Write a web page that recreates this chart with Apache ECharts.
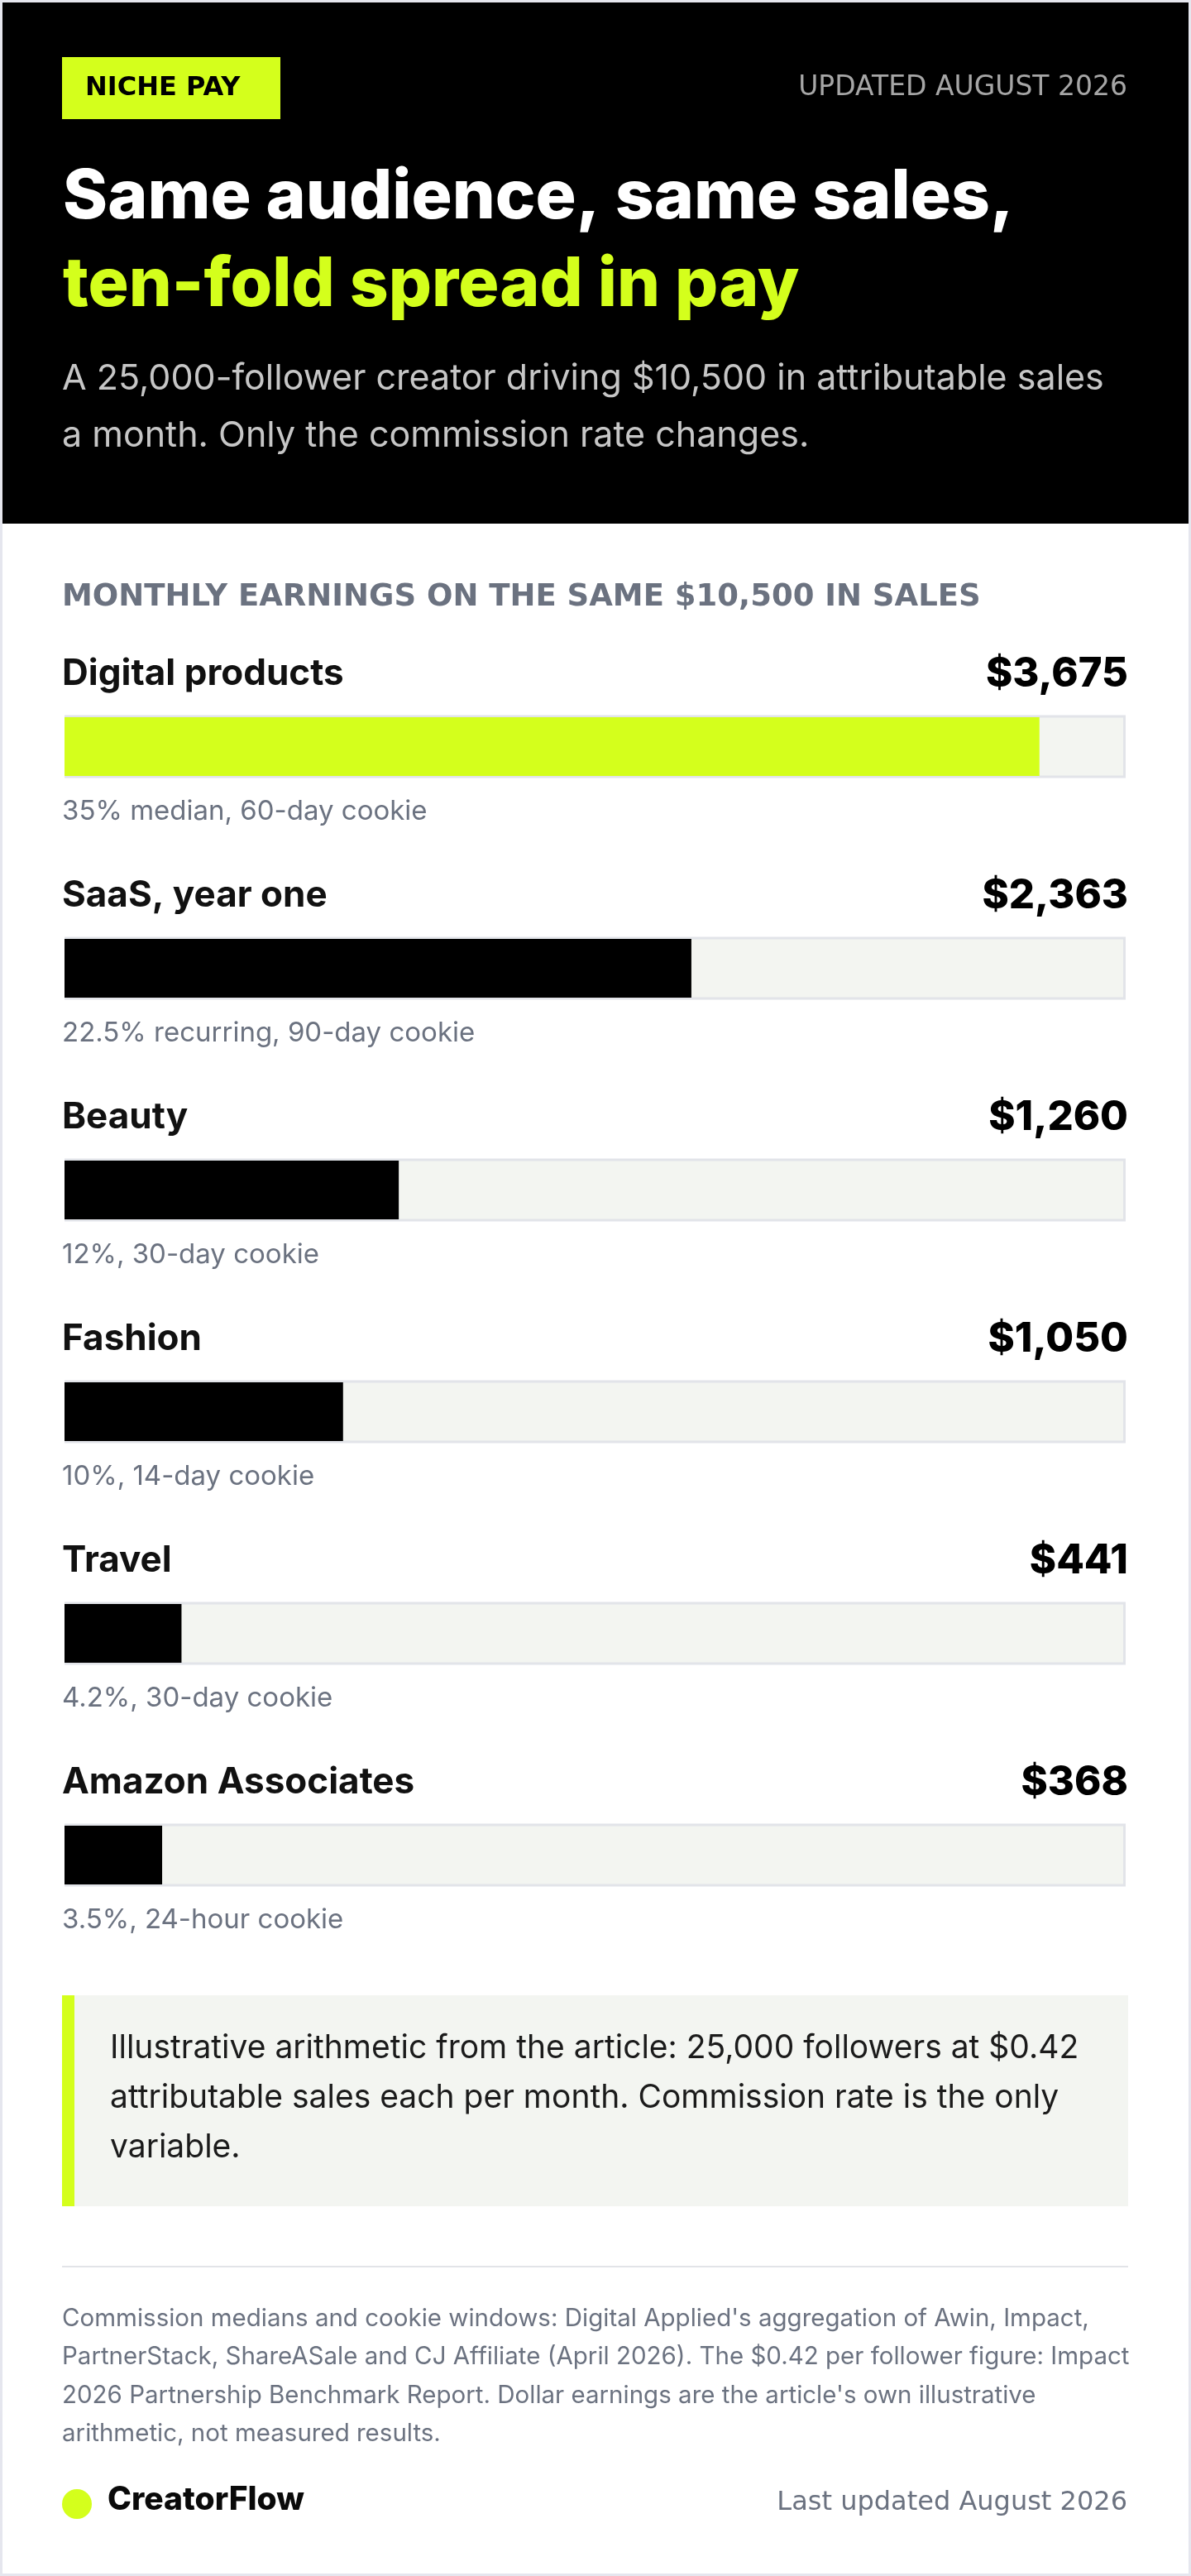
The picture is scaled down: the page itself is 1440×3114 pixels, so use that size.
<!DOCTYPE html>
<html>
<head>
<meta charset="utf-8">
<script src="https://cdn.jsdelivr.net/npm/echarts@6/dist/echarts.min.js"></script>
<style>
html,body{margin:0;padding:0;background:#fff;}
#c{width:1440px;height:3114px;}
</style>
</head>
<body>
<div id="c"></div>
<script>
// ---- data ----
const categories = ['Digital products', 'SaaS, year one', 'Beauty', 'Fashion', 'Travel', 'Amazon Associates'];
const earnings = [3675, 2363, 1260, 1050, 441, 368];
const notes = ['35% median, 60-day cookie', '22.5% recurring, 90-day cookie', '12%, 30-day cookie', '10%, 14-day cookie', '4.2%, 30-day cookie', '3.5%, 24-hour cookie'];
const highlight = [true, false, false, false, false, false];
const AXIS_MAX = 4000;

const badgeText = 'NICHE PAY';
const updatedText = 'UPDATED AUGUST 2026';
const titleLines = ['Same audience, same sales,', 'ten-fold spread in pay'];
const subtitleLines = ['A 25,000-follower creator driving $10,500 in attributable sales', 'a month. Only the commission rate changes.'];
const sectionLabel = 'MONTHLY EARNINGS ON THE SAME $10,500 IN SALES';
const calloutLines = ['Illustrative arithmetic from the article: 25,000 followers at $0.42', 'attributable sales each per month. Commission rate is the only', 'variable.'];
const footnoteLines = ["Commission medians and cookie windows: Digital Applied's aggregation of Awin, Impact,", 'PartnerStack, ShareASale and CJ Affiliate (April 2026). The $0.42 per follower figure: Impact', "2026 Partnership Benchmark Report. Dollar earnings are the article's own illustrative", 'arithmetic, not measured results.'];
const brandName = 'CreatorFlow';
const lastUpdated = 'Last updated August 2026';

// ---- styles ----
const LIME = '#d4ff1c';
const GRAY = '#6b7280';
const INTER = 'Inter, "Noto Sans", sans-serif';
const DEJAVU = '"DejaVu Sans", sans-serif';

function T(x, base, text, size, weight, color, family, opts) {
  opts = opts || {};
  const lh = opts.lh || size;
  const k = family === DEJAVU ? 0.346 : 0.363;
  const y = base - lh / 2 - k * size;
  return {
    type: 'text', x: x, y: y, z: 10,
    style: {
      text: text, fontSize: size, fontWeight: weight, fill: color, fontFamily: family,
      lineHeight: lh, align: opts.align || 'left', verticalAlign: 'top'
    }
  };
}
function R(x, y, w, h, fill, z) {
  return { type: 'rect', z: z || 1, shape: { x: x, y: y, width: w, height: h }, style: { fill: fill } };
}

const fmt = v => '$' + v.toLocaleString('en-US');

const chart = echarts.init(document.getElementById('c'), null, { renderer: 'canvas' });

const option = {
  backgroundColor: '#e5e6ee',
  animation: false,
  grid: { left: 78, top: 768.5, width: 1283, height: 1608, containLabel: false },
  xAxis: { type: 'value', min: 0, max: AXIS_MAX, show: false },
  yAxis: [
    { type: 'category', data: categories, inverse: true, show: false },
    { type: 'category', data: categories, inverse: true, show: false }
  ],
  series: [
    {
      type: 'bar', name: 'track', yAxisIndex: 1, barWidth: 76, z: 3, silent: true,
      data: categories.map(() => AXIS_MAX),
      itemStyle: { color: '#f3f5f1', borderColor: '#e2e4e9', borderWidth: 3 },
      label: {
        show: true, position: [-3, -49.5], align: 'left', verticalAlign: 'middle',
        formatter: p => '{n|' + categories[p.dataIndex] + '}{v|' + fmt(earnings[p.dataIndex]) + '}',
        rich: {
          n: { width: 900, align: 'left', fontFamily: INTER, fontSize: 44, fontWeight: 700, color: '#111111' },
          v: { width: 389, align: 'right', fontFamily: INTER, fontSize: 49, fontWeight: 800, color: '#000000' }
        }
      }
    },
    {
      type: 'bar', name: 'earnings', yAxisIndex: 0, barWidth: 71, z: 4,
      data: earnings.map((v, i) => ({ value: v, itemStyle: { color: highlight[i] ? LIME : '#000000' } })),
      label: {
        show: true, position: [-3, 113.7], align: 'left', verticalAlign: 'middle',
        formatter: p => notes[p.dataIndex],
        fontFamily: INTER, fontSize: 33, fontWeight: 400, color: GRAY
      }
    }
  ],
  graphic: {
    elements: [
      R(3, 3, 1434, 3108, '#ffffff', 0),
      R(3, 3, 1434, 630, '#000000', 1),
      R(75, 69, 264, 75, LIME, 2),
      T(103, 117.5, badgeText, 32, 700, '#000000', DEJAVU),
      T(1363, 117.5, updatedText, 33, 400, '#a6a6a6', DEJAVU, { align: 'right' }),
      T(76, 269, titleLines[0], 82, 800, '#ffffff', INTER),
      T(76, 375, titleLines[1], 82, 800, LIME, INTER),
      T(75, 474, subtitleLines.join('\n'), 43, 400, '#c6c6c6', INTER, { lh: 69 }),
      T(75, 735, sectionLabel, 37, 700, GRAY, DEJAVU),
      R(75, 2412, 1289, 255, '#f3f5f1', 1),
      R(75, 2412, 15, 255, LIME, 2),
      T(133, 2490, calloutLines.join('\n'), 39, 400, '#1b1b1b', INTER, { lh: 60 }),
      R(75, 2739, 1289, 2, '#e2e4e8', 1),
      T(75, 2814, footnoteLines.join('\n'), 29.5, 400, GRAY, INTER, { lh: 46.3 }),
      { type: 'circle', z: 2, shape: { cx: 93, cy: 3027, r: 18 }, style: { fill: LIME } },
      T(130, 3036, brandName, 39, 800, '#0a0a0a', INTER),
      T(1363, 3037, lastUpdated, 32, 400, GRAY, DEJAVU, { align: 'right' })
    ]
  }
};
chart.setOption(option);
</script>
</body>
</html>
